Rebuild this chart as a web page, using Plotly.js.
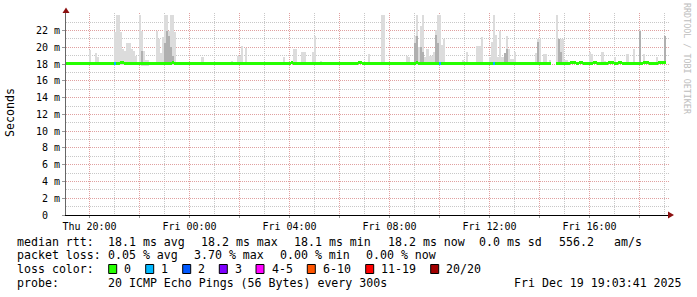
<!DOCTYPE html>
<html><head><meta charset="utf-8">
<script src="https://cdn.plot.ly/plotly-3.0.1.min.js"></script>
<style>html,body{margin:0;padding:0;background:#fff;}#chart{width:697px;height:297px;}</style>
</head><body><div id="chart"></div>
<script>
// ---- data (milliseconds), one value per 5-minute step, 288 steps ----
const startUTC = [2025, 11, 18, 19, 3, 41];
const stepSeconds = 300;

const smokeTop = [
18.3,18.3,18.3,18.3,18.3,18.3,18.3,18.3,18.3,18.3,18.3,19.7,
18.3,18.3,19.3,18.9,18.3,18.3,18.3,18.3,18.3,18.3,18.3,21.8,
23.9,23.9,21.8,19.8,19.6,20.5,20.5,19.8,19.6,19.0,18.3,23.9,
21.9,19.6,18.5,18.5,18.3,18.3,18.3,21.9,21.0,19.3,21.2,23.9,
23.9,21.9,23.9,23.9,21.8,18.3,18.3,18.3,18.3,18.3,18.3,18.3,
18.3,18.3,18.3,18.3,18.3,18.8,18.3,18.3,18.3,18.3,18.3,18.3,
18.3,18.3,18.3,18.3,18.3,18.3,18.3,18.4,18.3,18.3,19.0,19.0,
20.2,18.3,19.9,18.3,18.3,18.3,18.3,18.3,18.3,18.3,18.3,18.3,
18.3,18.3,18.3,18.3,18.3,18.3,18.3,18.3,18.8,18.3,18.3,18.3,
18.3,19.8,19.8,18.3,18.3,19.4,19.4,18.3,18.3,18.3,19.4,21.4,
18.3,18.3,18.4,18.3,18.3,18.3,18.3,18.3,18.3,18.3,18.3,18.3,
18.3,18.3,18.3,18.3,18.3,18.3,18.3,18.3,18.3,18.3,18.3,18.3,
18.3,19.2,18.3,18.3,18.3,18.3,18.3,23.9,23.9,18.3,18.3,18.3,
18.3,18.3,18.3,18.3,18.3,18.3,18.3,19.0,18.8,18.3,18.3,21.3,
23.9,20.1,22.6,23.9,18.8,19.8,19.0,19.0,19.4,22.1,23.9,23.9,
20.3,21.0,18.3,18.3,18.3,18.3,18.3,18.3,18.3,18.3,18.5,18.3,
19.4,18.3,18.3,18.3,18.3,20.2,20.2,21.2,18.3,18.3,18.3,18.8,
20.7,23.9,21.5,18.8,22.0,18.8,19.3,21.4,19.8,18.6,18.6,19.4,
18.3,18.3,18.3,18.3,18.3,18.3,18.3,18.3,18.3,19.3,21.0,21.0,
18.3,19.2,19.2,18.3,18.5,null,null,23.9,19.3,21.0,21.0,18.5,
18.5,18.3,18.3,18.3,18.3,18.3,18.3,18.3,18.3,18.3,18.3,19.5,
19.2,18.3,18.3,18.3,18.3,19.4,18.4,18.3,18.3,18.3,18.3,18.8,
18.3,18.3,18.3,18.3,18.3,19.2,18.3,18.3,19.8,18.3,18.3,22.1,
18.3,19.2,18.3,18.3,18.3,18.3,18.3,18.8,18.3,18.3,18.3,21.4
];

const smokeInner = [
null,null,null,null,null,null,null,null,null,null,null,null,
null,null,null,null,null,null,null,null,null,null,null,null,
null,null,null,null,null,null,null,null,null,null,null,null,
19.6,null,null,null,null,null,null,null,null,null,null,20.5,
22.0,21.3,20.0,19.0,null,null,null,null,null,null,null,null,
null,null,null,null,null,null,null,null,null,null,null,null,
null,null,null,null,null,null,null,null,null,null,null,null,
null,null,null,null,null,null,null,null,null,null,null,null,
null,null,null,null,null,null,null,null,null,null,null,null,
null,null,null,null,null,null,null,null,null,null,null,null,
null,null,null,null,null,null,null,null,null,null,null,null,
null,null,null,null,null,null,null,null,null,null,null,null,
null,null,null,null,null,null,null,null,null,null,null,null,
null,null,null,null,null,null,null,null,null,null,null,20.5,
21.3,null,20.1,19.5,null,null,null,null,null,21.5,20.5,null,
null,null,null,null,null,null,null,null,null,null,null,null,
null,null,null,null,null,null,null,null,null,null,null,null,
null,null,null,null,null,null,19.3,19.8,null,null,null,null,
null,null,null,null,null,null,null,null,null,null,20.6,null,
null,null,null,null,null,null,null,null,21.0,19.5,null,null,
null,null,null,null,null,null,null,null,null,null,null,null,
null,null,null,null,null,null,null,null,null,null,null,null,
null,null,null,null,null,null,null,null,null,null,null,22.0,
null,null,null,null,null,null,null,null,null,null,null,21.4
];

const smokeMin = [
18.0,18.0,18.0,18.0,18.0,18.0,18.0,18.0,18.0,18.0,18.0,18.0,
18.0,18.0,18.0,18.0,18.0,18.0,18.0,18.0,18.0,18.0,18.0,17.9,
17.9,17.9,17.9,17.9,17.9,17.9,17.9,17.9,17.9,17.9,18.0,17.9,
17.8,17.8,17.8,17.8,18.0,18.0,18.0,17.9,17.9,17.9,17.9,17.9,
17.9,17.9,17.9,17.9,17.9,18.0,18.0,18.0,18.0,18.0,18.0,18.0,
18.0,18.0,18.0,18.0,18.0,18.0,18.0,18.0,18.0,18.0,18.0,18.0,
18.0,18.0,18.0,18.0,18.0,18.0,18.0,18.0,18.0,18.0,18.0,18.0,
18.0,18.0,18.0,18.0,18.0,18.0,18.0,18.0,18.0,18.0,18.0,18.0,
18.0,18.0,18.0,18.0,18.0,18.0,18.0,18.0,17.9,18.0,18.0,18.0,
18.0,18.0,18.0,18.0,18.0,18.0,18.0,18.0,18.0,18.0,18.0,18.0,
18.0,18.0,18.0,18.0,18.0,18.0,18.0,18.0,18.0,18.0,18.0,18.0,
18.0,18.0,18.0,18.0,18.0,18.0,18.0,18.0,18.0,18.0,18.0,18.0,
18.0,18.0,18.0,18.0,18.0,18.0,18.0,17.9,17.9,18.0,18.0,18.0,
18.0,18.0,18.0,18.0,18.0,18.0,18.0,17.9,17.9,18.0,18.0,17.9,
17.9,17.9,17.9,17.9,17.9,17.9,17.9,17.9,17.9,17.9,17.9,17.9,
17.9,17.9,18.0,18.0,18.0,18.0,18.0,18.0,18.0,18.0,18.0,18.0,
18.0,18.0,18.0,18.0,18.0,18.0,18.0,18.0,18.0,18.0,18.0,18.0,
17.9,17.9,17.9,18.0,17.9,18.0,18.0,17.9,18.0,18.0,18.0,18.0,
18.0,18.0,18.0,18.0,18.0,18.0,18.0,18.0,18.0,18.0,18.0,18.0,
18.0,18.0,18.0,18.0,18.0,null,null,18.0,18.0,18.0,18.0,18.0,
18.0,18.0,18.0,18.0,18.0,18.0,18.0,18.0,18.0,18.0,18.0,18.0,
18.0,18.0,18.0,18.0,18.0,18.0,18.0,18.0,18.0,18.0,18.0,18.0,
18.0,18.0,18.0,18.0,18.0,18.0,18.0,18.0,18.0,18.0,18.0,18.0,
18.0,18.0,18.0,18.0,18.0,18.0,18.0,18.0,18.0,18.0,18.0,18.0
];

const medianRtt = [
18.1,18.1,18.1,18.1,18.1,18.1,18.1,18.1,18.1,18.1,18.1,18.1,
18.1,18.1,18.1,18.1,18.1,18.1,18.1,18.1,18.1,18.1,18.1,18.1,
18.1,18.1,18.2,18.2,18.1,18.1,18.1,18.1,18.1,18.1,18.1,18.1,
18.1,18.1,18.1,18.1,18.1,18.1,18.1,18.1,18.1,18.1,18.1,18.1,
18.1,18.1,18.1,18.2,18.1,18.1,18.1,18.1,18.1,18.1,18.1,18.1,
18.1,18.1,18.1,18.1,18.1,18.1,18.1,18.1,18.1,18.1,18.1,18.1,
18.1,18.1,18.1,18.1,18.1,18.1,18.1,18.1,18.1,18.1,18.1,18.1,
18.1,18.1,18.1,18.1,18.1,18.1,18.1,18.1,18.1,18.1,18.1,18.1,
18.1,18.1,18.1,18.1,18.1,18.1,18.1,18.1,18.1,18.1,18.1,18.1,
18.2,18.1,18.1,18.1,18.1,18.1,18.1,18.1,18.1,18.1,18.1,18.1,
18.1,18.1,18.1,18.1,18.1,18.1,18.1,18.1,18.1,18.1,18.1,18.1,
18.1,18.1,18.1,18.1,18.1,18.1,18.1,18.1,18.2,18.2,18.1,18.1,
18.1,18.1,18.1,18.1,18.1,18.1,18.1,18.1,18.1,18.1,18.1,18.1,
18.1,18.1,18.1,18.1,18.1,18.1,18.1,18.1,18.1,18.1,18.1,18.1,
18.2,18.1,18.1,18.1,18.1,18.1,18.1,18.1,18.1,18.1,18.1,18.1,
18.1,18.1,18.1,18.1,18.1,18.1,18.1,18.1,18.1,18.1,18.1,18.1,
18.1,18.1,18.1,18.1,18.1,18.1,18.1,18.1,18.1,18.1,18.1,18.1,
18.1,18.1,18.1,18.1,18.1,18.1,18.1,18.1,18.1,18.1,18.1,18.1,
18.1,18.1,18.1,18.1,18.1,18.1,18.1,18.1,18.1,18.1,18.1,18.1,
18.1,18.1,18.1,18.1,18.1,null,null,18.1,18.1,18.1,18.1,18.1,
18.1,18.1,18.2,18.2,18.2,18.1,18.2,18.2,18.1,18.1,18.1,18.1,
18.1,18.2,18.2,18.1,18.1,18.1,18.1,18.1,18.2,18.2,18.2,18.1,
18.1,18.2,18.2,18.1,18.1,18.1,18.1,18.1,18.1,18.1,18.1,18.1,
18.1,18.2,18.2,18.2,18.1,18.1,18.1,18.1,18.2,18.2,18.2,18.2
];

// lost pings (of 20) per step
const lostPings = new Array(288).fill(0);
const lossSteps = [23, 179, 205];
const lossCounts = [1, 1, 1];

const lossLabels = ['0', '1', '2', '3', '4-5', '6-10', '11-19', '20/20'];
const lossUpper  = [0, 1, 2, 3, 5, 10, 19, 20];
const lossColors = ['#26ff00', '#00b8ff', '#0059ff', '#7e00ff', '#ff00ff', '#ff5500', '#ff0000', '#a10000'];

const yTickValues = [0, 2, 4, 6, 8, 10, 12, 14, 16, 18, 20, 22];
const yTickLabels = ['0\u00a0\u00a0', '2 m', '4 m', '6 m', '8 m', '10 m', '12 m', '14 m', '16 m', '18 m', '20 m', '22 m'];
const yMinorValues = [1, 3, 5, 7, 9, 11, 13, 15, 17, 19, 21, 23];

const xTickLabels = ['Thu 20:00', '', 'Fri 00:00', '', 'Fri 04:00', '', 'Fri 08:00', '', 'Fri 12:00', '', 'Fri 16:00', ''];

const statLines = [
  ['median rtt:', '18.1 ms avg', '18.2 ms max', '18.1 ms min', '18.2 ms now', '0.0 ms sd', '556.2', 'am/s'],
  ['packet loss:', '0.05 % avg', '3.70 % max', '0.00 % min', '0.00 % now'],
  ['probe:', '20 ICMP Echo Pings (56 Bytes) every 300s', 'Fri Dec 19 19:03:41 2025']
];

// ---- build ----
lossSteps.forEach((s, k) => { lostPings[s] = lossCounts[k]; });
const t0 = Date.UTC(...startUTC);
const stepMs = stepSeconds * 1000;
const xs = smokeTop.map((_, i) => t0 + (i + 0.5) * stepMs);
const colorFor = n => lossColors[lossUpper.findIndex(u => n <= u)];

// layout geometry (pixels)
const W = 697, H = 297, L = 66, R = 669, T = 13, B = 215;
const px = x => (x - L) / (R - L);
const py = y => (B - y) / (B - T);

const smokeOuter = {
  type: 'bar', x: xs, base: smokeMin,
  y: smokeTop.map((v, i) => v == null ? null : v - smokeMin[i]),
  width: stepMs, marker: { color: '#dcdcdc', line: { width: 0 } }, hoverinfo: 'skip'
};
const smokeDark = {
  type: 'bar', x: xs, base: medianRtt,
  y: smokeInner.map((v, i) => v == null ? null : v - medianRtt[i]),
  width: stepMs, marker: { color: '#b0b0b0', line: { width: 0 } }, hoverinfo: 'skip'
};
const lineHalf = 0.16;
const medianBars = {
  type: 'bar', x: xs, base: medianRtt.map(v => v == null ? null : v - lineHalf),
  y: medianRtt.map(v => v == null ? null : 2 * lineHalf),
  width: stepMs, marker: { color: lostPings.map(colorFor), line: { width: 0 } }, hoverinfo: 'skip'
};

const mono = 'DejaVu Sans Mono, monospace';
const annotations = [];
function ann(text, x, y, opt) {
  annotations.push(Object.assign({
    text: text, xref: 'paper', yref: 'paper', x: px(x), y: py(y),
    xanchor: 'left', yanchor: 'middle', showarrow: false,
    font: { family: mono, size: 11.6, color: '#000' }, borderpad: 0
  }, opt || {}));
}
const line1X = [16, 107.3, 200, 293.3, 386.7, 478.3, 558.3, 613];
statLines[0].forEach((t, k) => ann(t, line1X[k], 241.7));
const line2X = [16, 107.3, 193.3, 279.3, 365];
statLines[1].forEach((t, k) => ann(t, line2X[k], 255.3));
ann('loss color:', 16, 269.3);
const boxX = [108.7, 145.7, 182.7, 219.3, 256, 307.3, 365.7, 430.7];
const shapes = [];
lossLabels.forEach((lab, k) => {
  ann(lab, boxX[k] + 14.6, 269.3);
  shapes.push({ type: 'rect', xref: 'paper', yref: 'paper',
    x0: px(boxX[k]), x1: px(boxX[k] + 8), y0: py(273.5), y1: py(264.5),
    fillcolor: lossColors[k], line: { color: '#000', width: 1 } });
});
const line4X = [16, 107.3, 513.3];
statLines[2].forEach((t, k) => ann(t, line4X[k], 282.7));
ann('Seconds', 10, 113, { xanchor: 'center', textangle: -90 });
ann('RRDTOOL / TOBI OETIKER', 687, 59, { xanchor: 'center', textangle: 90,
  font: { family: mono, size: 8.4, color: '#bdbdbd' } });

// axis arrows
shapes.push({ type: 'path', xref: 'paper', yref: 'paper', layer: 'above',
  path: `M ${px(66)} ${py(7.5)} L ${px(62.5)} ${py(13)} L ${px(69.5)} ${py(13)} Z`,
  fillcolor: '#8b1010', line: { width: 0 } });
shapes.push({ type: 'path', xref: 'paper', yref: 'paper', layer: 'above',
  path: `M ${px(674)} ${py(215)} L ${px(668)} ${py(211.5)} L ${px(668)} ${py(218.5)} Z`,
  fillcolor: '#8b1010', line: { width: 0 } });

const xTickVals = xTickLabels.map((_, k) => Date.UTC(2025, 11, 18, 20 + 2 * k));

const layout = {
  width: W, height: H,
  margin: { l: L, r: W - R, t: T, b: H - B, pad: 0 },
  paper_bgcolor: '#fff', plot_bgcolor: '#fff',
  showlegend: false, barmode: 'overlay', bargap: 0,
  xaxis: {
    type: 'date', range: [t0, t0 + 24 * 3600000 + 432000],
    tickmode: 'array', tickvals: xTickVals, ticktext: xTickLabels,
    showgrid: true, gridcolor: '#e0a0a0', griddash: '1px,1px', gridwidth: 1,
    minor: { tickmode: 'linear', tick0: Date.UTC(2025, 11, 18, 21), dtick: 3600000,
      showgrid: true, gridcolor: '#c8c8c8', griddash: '1px,1px', gridwidth: 1, ticks: '' },
    showline: true, linecolor: '#000', linewidth: 1,
    ticks: 'outside', ticklen: 2, tickcolor: '#999',
    tickfont: { family: mono, size: 10, color: '#000' },
    zeroline: false, fixedrange: true
  },
  yaxis: {
    range: [0, 24.1],
    tickmode: 'array', tickvals: yTickValues, ticktext: yTickLabels,
    showgrid: true, gridcolor: '#e0a0a0', griddash: '1px,1px', gridwidth: 1,
    minor: { tickmode: 'array', tickvals: yMinorValues,
      showgrid: true, gridcolor: '#c8c8c8', griddash: '1px,1px', gridwidth: 1, ticks: '' },
    showline: true, linecolor: '#666', linewidth: 1,
    ticks: 'outside', ticklen: 3, tickcolor: '#999',
    tickfont: { family: mono, size: 10, color: '#000' },
    zeroline: false, fixedrange: true
  },
  annotations: annotations,
  shapes: shapes
};

Plotly.newPlot('chart', [smokeOuter, smokeDark, medianBars], layout, { displayModeBar: false, staticPlot: true });
</script>
</body></html>
